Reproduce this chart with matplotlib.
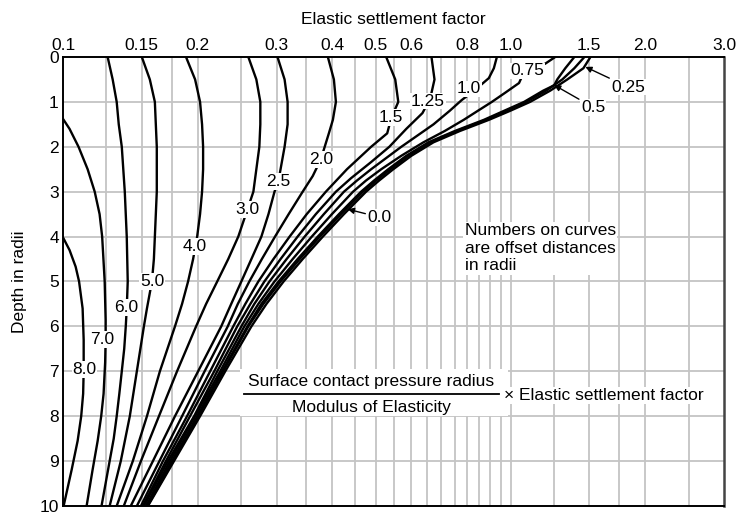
import matplotlib
matplotlib.use("Agg")
import matplotlib.pyplot as plt
from matplotlib.patches import Rectangle
from matplotlib.ticker import NullLocator

# --- chart data: elastic settlement factor read at each depth, one curve per offset ---
tick_values = [0.1, 0.15, 0.2, 0.3, 0.4, 0.5, 0.6, 0.8, 1.0, 1.5, 2.0, 3.0]
tick_labels = ["0.1", "0.15", "0.2", "0.3", "0.4", "0.5", "0.6", "0.8", "1.0", "1.5", "2.0", "3.0"]
grid_values = [0.125, 0.15, 0.175, 0.2, 0.25, 0.3, 0.35, 0.4, 0.45, 0.5, 0.55, 0.6,
               0.65, 0.7, 0.75, 0.8, 0.85, 0.9, 0.95, 1.0, 1.25, 1.5, 1.75, 2.0, 2.5]
depth_ticks = list(range(0, 11))

lower_depths = [3, 3.5, 4, 4.5, 5, 5.5, 6, 7, 8, 9, 10]

curves = {
    "8.0": ([4.02, 4.3, 4.67, 5, 5.6, 6.3, 7.0, 7.5, 8, 8.55, 9.2, 10],
            [0.100, 0.1034, 0.1067, 0.1086, 0.1106, 0.1112, 0.1112, 0.1109, 0.1098, 0.1078, 0.1045, 0.1003]),
    "7.0": ([1.38, 1.6, 2, 2.5, 3, 3.5, 4, 5, 5.85, 6.3, 6.8, 7.5, 8, 8.55, 9.2, 10],
            [0.100, 0.1034, 0.1083, 0.1135, 0.1177, 0.1207, 0.1223, 0.1239, 0.1245, 0.1245,
             0.1242, 0.1232, 0.1217, 0.1195, 0.1164, 0.1129]),
    "6.0": ([0, 0.5, 1, 1.5, 2, 3, 4, 5, 5.6, 6, 6.5, 7, 7.5, 8, 8.5, 9, 10],
            [0.1258, 0.1291, 0.1318, 0.1332, 0.1353, 0.1374, 0.1388, 0.1395, 0.1388, 0.1381,
             0.1370, 0.1353, 0.1336, 0.1318, 0.1298, 0.1271, 0.1219]),
    "5.0": ([0, 0.5, 1, 1.5, 2, 3, 4, 4.5, 5.0, 5.6, 6, 7, 8, 9, 10],
            [0.1500, 0.1563, 0.1604, 0.1612, 0.1620, 0.1620, 0.1604, 0.1596, 0.1580, 0.1540,
             0.1516, 0.1462, 0.1410, 0.1346, 0.1271]),
    "4.0": ([0, 0.5, 1, 1.5, 2, 2.5, 3, 3.5, 4, 4.5, 5, 5.5, 6, 7, 8, 9, 10],
            [0.1883, 0.1973, 0.2024, 0.2045, 0.2056, 0.2056, 0.2045, 0.2024, 0.1994, 0.1953,
             0.1903, 0.1845, 0.1779, 0.1646, 0.1540, 0.1432, 0.1318]),
    "3.0": ([0, 0.5, 1, 1.5, 2, 2.5, 3, 3.4, 4, 4.5, 5, 5.5, 6, 7, 8, 9, 10],
            [0.2595, 0.2704, 0.2760, 0.2760, 0.2746, 0.2704, 0.2663, 0.2582, 0.2464, 0.2340,
             0.2211, 0.2088, 0.1983, 0.1798, 0.1638, 0.1493, 0.1367]),
    "2.5": ([0, 0.5, 1, 1.5, 2, 2.75] + lower_depths,
            [0.3015, 0.3127, 0.3176, 0.3176, 0.3127, 0.3031,
             0.2969, 0.2878, 0.2775, 0.2636, 0.2503, 0.2376, 0.2257, 0.2004, 0.1779, 0.1588, 0.1417]),
    "2.0": ([0, 0.5, 1, 1.4, 1.7, 2.28, 2.65] + lower_depths,
            [0.3907, 0.4030, 0.4072, 0.4009, 0.3927, 0.3768, 0.3615,
             0.3432, 0.3193, 0.2977, 0.2782, 0.2608, 0.2458, 0.2334, 0.2072, 0.1845, 0.1642, 0.1462]),
    "1.5": ([0, 0.5, 1, 1.36, 1.7, 2, 2.5] + lower_depths,
            [0.5275, 0.5526, 0.5613, 0.5414, 0.5302, 0.4881, 0.4310,
             0.3867, 0.3504, 0.3209, 0.2953, 0.2732, 0.2555, 0.2401, 0.2132, 0.1893, 0.1672, 0.1493]),
    "1.25": ([0, 0.5, 0.8, 1.0, 1.25, 1.6, 2, 2.34, 2.7] + lower_depths,
             [0.6659, 0.6763, 0.6659, 0.6555, 0.6356, 0.5850, 0.5360, 0.4881, 0.4401,
              0.4072, 0.3672, 0.3344, 0.3063, 0.2818, 0.2622, 0.2451, 0.2177, 0.1922, 0.1698, 0.1508]),
    "1.0": ([0, 0.25, 0.47, 0.74, 0.96, 1.2, 1.5, 2, 2.5, 2.75] + lower_depths,
            [0.9323, 0.9179, 0.8946, 0.8319, 0.7778, 0.7310, 0.6728, 0.5701, 0.4881, 0.4539,
             0.4244, 0.3827, 0.3468, 0.3160, 0.2893, 0.2676, 0.2503, 0.2211, 0.1963, 0.1716, 0.1516]),
    "0.75": ([0, 0.15, 0.33, 0.58, 0.8, 1, 1.2, 1.4, 1.65, 1.9, 2.2, 2.5, 2.75] + lower_depths,
             [1.2587, 1.1952, 1.0723, 1.0448, 0.9717, 0.9085, 0.8448, 0.7859, 0.7123, 0.6389,
              0.5701, 0.5141, 0.4756,
              0.4447, 0.3989, 0.3597, 0.3260, 0.2969, 0.2732, 0.2542, 0.2245, 0.1973, 0.1734, 0.1532]),
    "0.5": ([0, 0.25, 0.5, 0.63, 0.75, 1, 1.2, 1.4, 1.65, 1.9, 2.2, 2.5, 2.75] + lower_depths,
            [1.3888, 1.3257, 1.2719, 1.2522, 1.1830, 1.0723, 0.9667, 0.8717, 0.7501, 0.6555,
             0.5850, 0.5330, 0.4957,
             0.4635, 0.4136, 0.3710, 0.3344, 0.3031, 0.2775, 0.2582, 0.2268, 0.1994, 0.1752, 0.1540]),
    "0.25": ([0, 0.25, 0.5, 0.75, 1, 1.2, 1.4, 1.65, 1.9, 2.2, 2.5, 2.75] + lower_depths,
             [1.4627, 1.3888, 1.3053, 1.2013, 1.0834, 0.9767, 0.8807, 0.7579, 0.6625, 0.5911,
              0.5386, 0.5009,
              0.4683, 0.4179, 0.3749, 0.3380, 0.3063, 0.2803, 0.2595, 0.2280, 0.2004, 0.1761, 0.1544]),
    "0.0": ([0, 0.25, 0.5, 0.75, 1, 1.2, 1.4, 1.65, 1.9, 2.2, 2.5, 2.75] + lower_depths,
            [1.5090, 1.4553, 1.3395, 1.2266, 1.1060, 0.9974, 0.8946, 0.7698, 0.6728, 0.6004,
             0.5470, 0.5088,
             0.4756, 0.4244, 0.3807, 0.3432, 0.3111, 0.2848, 0.2636, 0.2304, 0.2024, 0.1770, 0.1548]),
}

# label text -> (factor, depth) where it sits on its curve
curve_labels = {
    "8.0": (0.1117, 6.96), "7.0": (0.1226, 6.29), "6.0": (0.1381, 5.58),
    "5.0": (0.158, 5.0), "4.0": (0.1973, 4.22), "3.0": (0.258, 3.39),
    "2.5": (0.303, 2.77), "2.0": (0.377, 2.28), "1.5": (0.541, 1.34),
    "1.25": (0.653, 0.98), "1.0": (0.806, 0.71), "0.75": (1.09, 0.31),
}
# arrow labels: text -> (text position, arrow tip)
arrow_labels = {
    "0.25": ((1.834, 0.67), (1.47, 0.22)),
    "0.5": ((1.53, 1.12), (1.252, 0.625)),
    "0.0": ((0.51, 3.57), (0.433, 3.39)),
}

plt.rcParams["font.family"] = ["Liberation Sans", "DejaVu Sans"]
FS = 12.5

fig = plt.figure(figsize=(7.39, 5.14), dpi=100)
ax = fig.add_axes([0.0853, 0.0156, 0.8944, 0.8735])

ax.set_xscale("log")
ax.set_xlim(0.1, 3.0)
ax.set_ylim(10, 0)

for gv in grid_values:
    ax.axvline(gv, color="#c4c4c4", lw=1.3, zorder=0)
for d in depth_ticks[1:-1]:
    ax.axhline(d, color="#c4c4c4", lw=1.3, zorder=0)

for name, (depths, factors) in curves.items():
    ax.plot(factors, depths, color="black", lw=1.7, solid_joinstyle="round", zorder=2)

box = dict(facecolor="white", edgecolor="none", pad=0.6)
for text, (xv, dv) in curve_labels.items():
    ax.text(xv, dv, text, ha="center", va="center", fontsize=FS, bbox=box, zorder=3)

for text, ((tx, td), (tipx, tipd)) in arrow_labels.items():
    ax.annotate(text, xy=(tipx, tipd), xytext=(tx, td), ha="center", va="center", fontsize=FS,
                bbox=box, zorder=3,
                arrowprops=dict(arrowstyle="-|>", color="black", lw=1.0, mutation_scale=9,
                                shrinkA=1, shrinkB=0))

ax.text(0.79, 4.26, "Numbers on curves\nare offset distances\nin radii", ha="left", va="center",
        fontsize=FS, linespacing=1.2, bbox=dict(facecolor="white", edgecolor="none", pad=1.0), zorder=3)

# formula block
ax.add_patch(Rectangle((0.249, 6.96), 0.985 - 0.249, 1.04, facecolor="white", edgecolor="none", zorder=1))
ax.text(0.488, 7.23, "Surface contact pressure radius", ha="center", va="center", fontsize=FS, zorder=3)
ax.text(0.488, 7.81, "Modulus of Elasticity", ha="center", va="center", fontsize=FS, zorder=3)
ax.plot([0.2536, 0.944], [7.5, 7.5], color="black", lw=1.3, zorder=4)
ax.text(0.967, 7.54, "\u00d7 Elastic settlement factor", ha="left", va="center", fontsize=FS,
        bbox=dict(facecolor="white", edgecolor="none", pad=1.0), zorder=3)

ax.xaxis.tick_top()
ax.xaxis.set_label_position("top")
ax.xaxis.set_minor_locator(NullLocator())
ax.set_xticks(tick_values)
ax.set_xticklabels(tick_labels, fontsize=FS)
ax.set_yticks(depth_ticks)
ax.set_yticklabels([str(d) for d in depth_ticks], fontsize=FS)
ax.tick_params(length=0, pad=3)
ax.set_xlabel("Elastic settlement factor", fontsize=FS, labelpad=10)
ax.set_ylabel("Depth in radii", fontsize=FS, labelpad=9)

for side in ["top", "bottom", "left"]:
    ax.spines[side].set_linewidth(1.4)
ax.spines["right"].set_linewidth(1.8)
ax.spines["right"].set_color("#444444")

fig.savefig("out.png", dpi=100)
